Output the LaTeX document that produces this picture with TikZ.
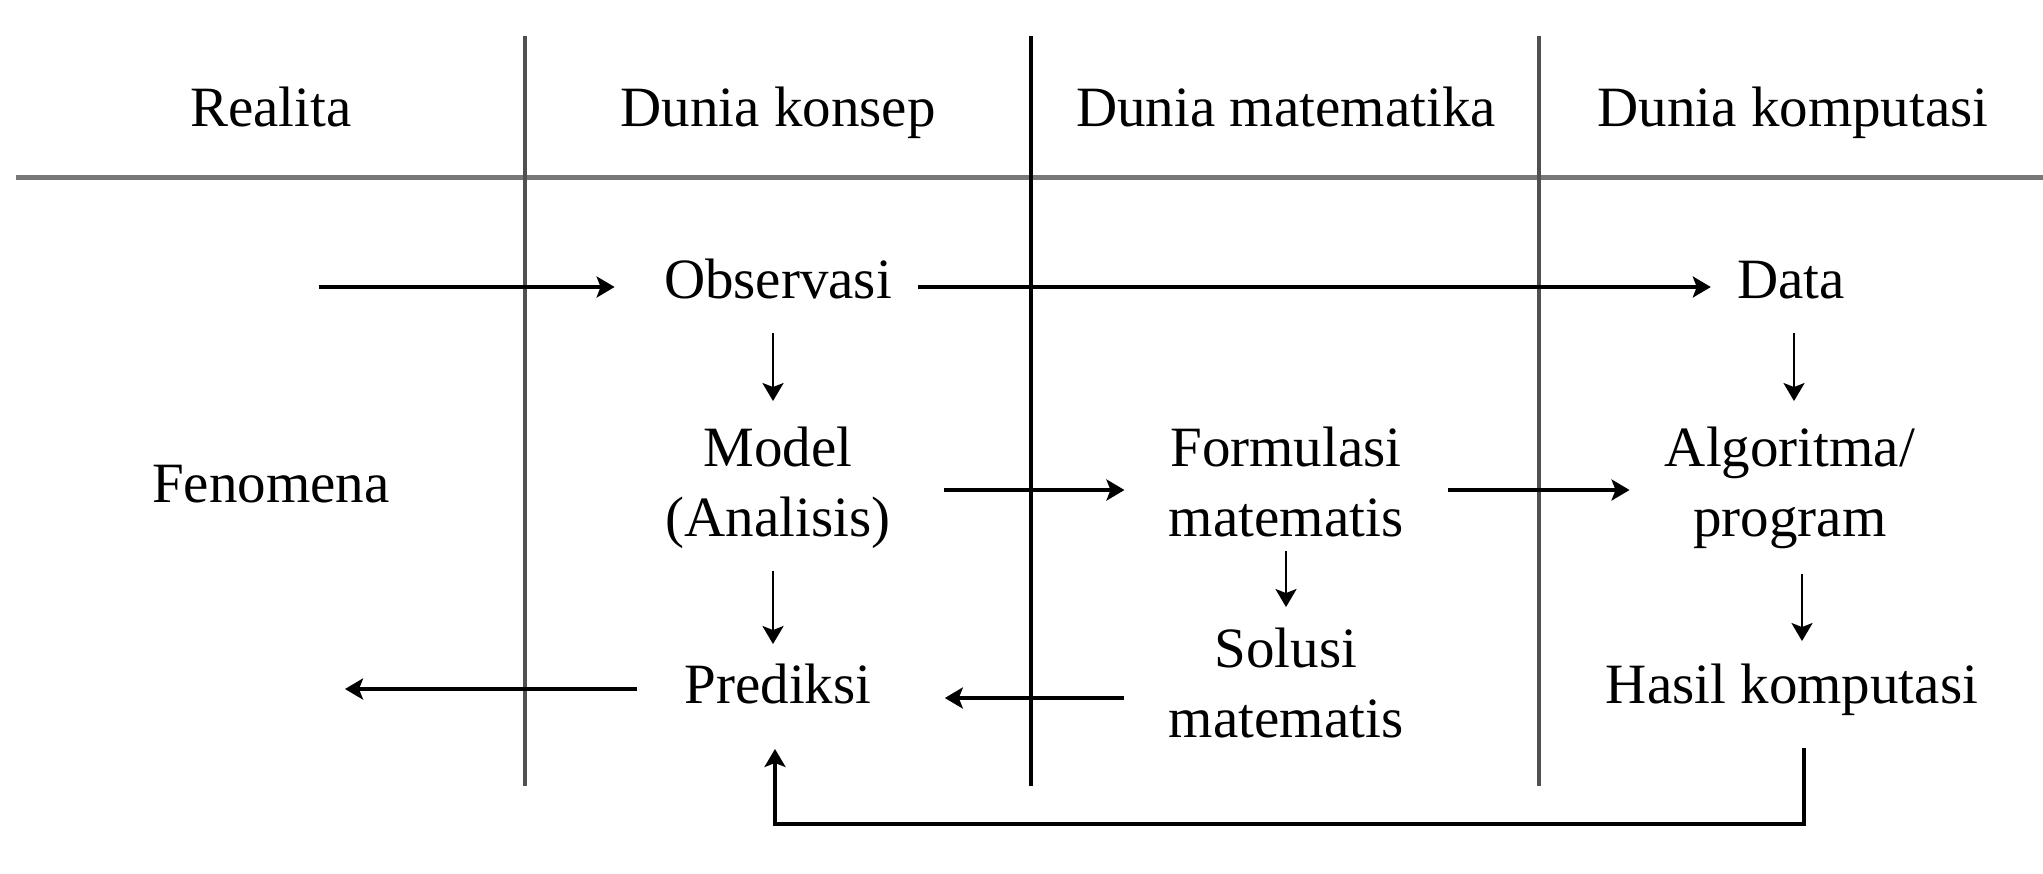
\documentclass[tikz,border=0pt]{standalone}
\usepackage{fontspec}
\setmainfont{Liberation Serif}
\usetikzlibrary{arrows.meta}
\definecolor{sepgray}{RGB}{80,80,80}
\definecolor{hdrgray}{RGB}{120,120,120}
\begin{document}
\begin{tikzpicture}[x=0.5pt,y=-0.5pt,
  lbl/.style={font=\fontsize{28.5}{35}\selectfont, align=center, inner sep=0pt, anchor=base},
  tipstyle/.style={-{Stealth[length=9pt,width=10.5pt,inset=2pt]}},
  harrow/.style={tipstyle, line width=2pt},
  varrow/.style={tipstyle, line width=1.4pt},
  farrow/.style={tipstyle, line width=1.7pt},
  sepline/.style={draw=sepgray, line width=1.8pt},
  midline/.style={draw=black, line width=2pt},
  hdrline/.style={draw=hdrgray, line width=2.5pt}]
\useasboundingbox[fill=white] (0,0) rectangle (2043,873);

% grid
\coordinate (hl) at (16,177);
\coordinate (hr) at (2043,177);
\draw[hdrline] (hl) -- (hr);
\coordinate (s1t) at (525,36);  \coordinate (s1b) at (525,786);
\coordinate (s2t) at (1031,36); \coordinate (s2b) at (1031,786);
\coordinate (s3t) at (1539,36); \coordinate (s3b) at (1539,786);
\draw[sepline] (s1t) -- (s1b);
\draw[midline] (s2t) -- (s2b);
\draw[sepline] (s3t) -- (s3b);

% headers
\node[lbl] (hR) at (271,126) {Realita};
\node[lbl] (hK) at (778,126) {Dunia konsep};
\node[lbl] (hM) at (1286,126) {Dunia matematika};
\node[lbl] (hC) at (1793,126) {Dunia komputasi};

% content nodes (multi-line nodes are placed by their last baseline)
\node[lbl] (fen) at (271,502) {Fenomena};
\node[lbl] (obs) at (778,298) {Observasi};
\node[lbl] (data) at (1791,298) {Data};
\node[lbl] (model) at (778,536) {Model\\(Analisis)};
\node[lbl] (form) at (1286,536) {Formulasi\\matematis};
\node[lbl] (algo) at (1790,536) {Algoritma/\\program};
\node[lbl] (pred) at (778,703) {Prediksi};
\node[lbl] (sol) at (1286,737) {Solusi\\matematis};
\node[lbl] (hasil) at (1792,703) {Hasil komputasi};

% arrow levels and free ends
\coordinate (fin) at (319,287);
\coordinate (lvl2) at (0,490);
\coordinate (lvl3) at (0,698);
\coordinate (pout) at (345,689);
\coordinate (fb) at (0,824);

% horizontal arrows
\draw[harrow, shorten >=24.5pt] (fin) -- (obs.west |- fin);
\draw[harrow, shorten <=13pt, shorten >=13pt] (obs.east |- fin) -- (data.west |- fin);
\draw[harrow, shorten <=26.5pt, shorten >=22pt] (model.east |- lvl2) -- (form.west |- lvl2);
\draw[harrow, shorten <=22pt, shorten >=17.5pt] (form.east |- lvl2) -- (algo.west |- lvl2);
\draw[harrow, shorten <=23.5pt] (pred.west |- pout) -- (pout);
\draw[harrow, shorten <=22pt, shorten >=36.5pt] (sol.west |- lvl3) -- (pred.east |- lvl3);

% vertical arrows
\draw[varrow, shorten <=17pt, shorten >=12.5pt] ([xshift=-2.5pt]obs.south) -- ([xshift=-2.5pt]model.north);
\draw[varrow, shorten <=17pt, shorten >=12.5pt] ([xshift=1.5pt]data.south) -- ([xshift=1.5pt]data.south |- model.north);
\draw[varrow, shorten <=11pt, shorten >=9.5pt] ([xshift=-2.5pt]model.south) -- ([xshift=-2.5pt]pred.north);
\draw[varrow, shorten <=7pt, shorten >=10pt] (form.south) -- (sol.north);
\draw[varrow, shorten <=12.5pt, shorten >=11pt] ([xshift=6pt]algo.south) -- ([xshift=5pt]hasil.north);

% feedback
\draw[farrow, shorten <=16pt, shorten >=22.5pt] ([xshift=6pt]hasil.south) -- ([xshift=6pt]hasil.south |- fb) -- ([xshift=-1.5pt]pred.south |- fb) -- ([xshift=-1.5pt]pred.south);
\end{tikzpicture}
\end{document}
